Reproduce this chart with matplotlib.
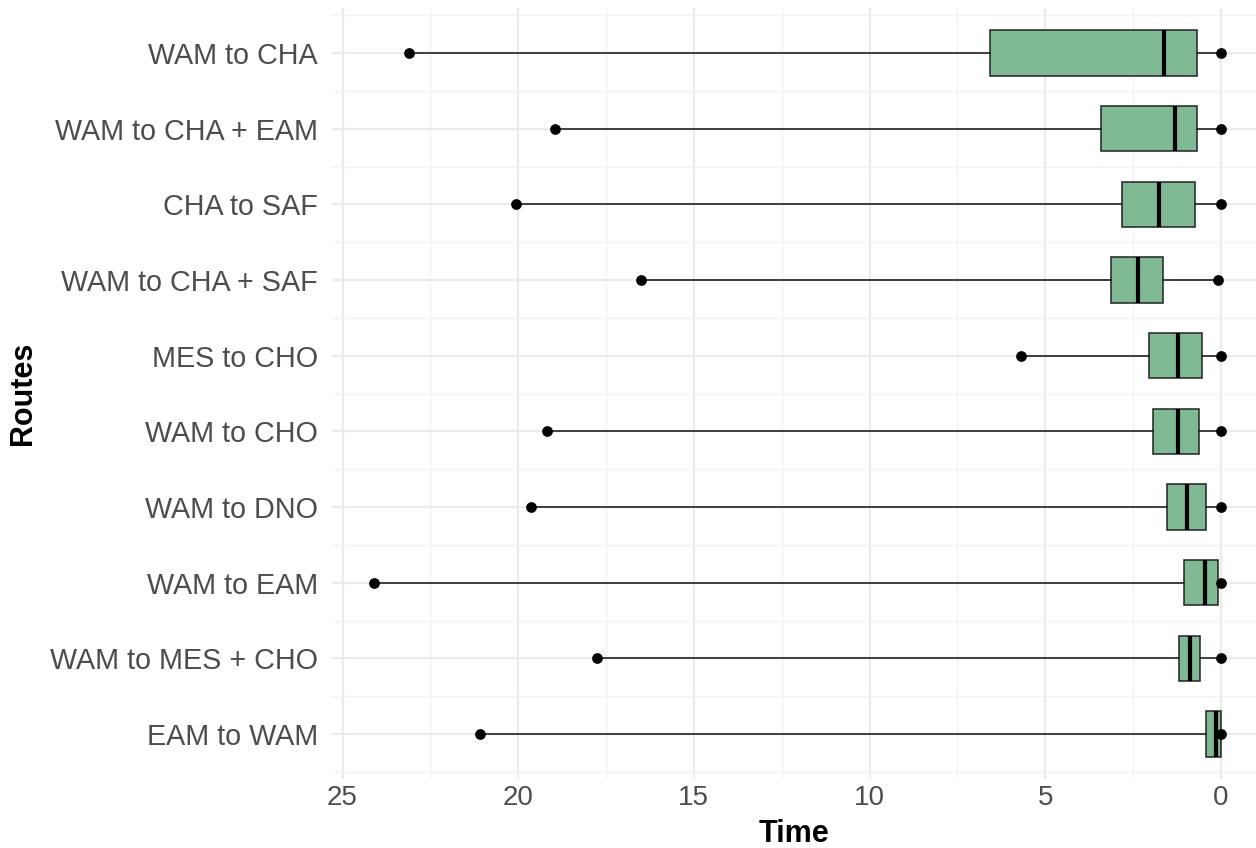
import matplotlib
matplotlib.use('Agg')
import matplotlib.pyplot as plt

plt.rcParams['font.family'] = ['Liberation Sans', 'DejaVu Sans']

# Routes, top to bottom as shown
routes = ['WAM to CHA', 'WAM to CHA + EAM', 'CHA to SAF', 'WAM to CHA + SAF',
          'MES to CHO', 'WAM to CHO', 'WAM to DNO', 'WAM to EAM',
          'WAM to MES + CHO', 'EAM to WAM']

# five-number summaries
t_min = [23.1, 18.95, 20.05, 16.5, 5.7, 19.17, 19.63, 24.1, 17.75, 21.08]
t_q1 = [6.56, 3.42, 2.80, 3.14, 2.04, 1.93, 1.54, 1.06, 1.19, 0.41]
t_med = [1.62, 1.30, 1.77, 2.36, 1.22, 1.22, 0.95, 0.44, 0.88, 0.13]
t_q3 = [0.69, 0.69, 0.74, 1.66, 0.54, 0.63, 0.43, 0.09, 0.58, 0.01]
t_max = [0.0, 0.0, 0.0, 0.08, 0.0, 0.0, 0.0, 0.0, 0.0, 0.0]

fig = plt.figure(figsize=(12.56, 8.48), dpi=100)
ax = fig.add_axes([0.2643, 0.0809, 0.7357, 0.910])

n = len(routes)
pos = list(range(n, 0, -1))

stats = []
for i in range(n):
    stats.append(dict(med=t_med[i], q1=t_q3[i], q3=t_q1[i],
                      whislo=t_max[i], whishi=t_min[i], fliers=[]))

ax.bxp(stats, positions=pos, widths=0.6, vert=False, patch_artist=True,
       showcaps=False, showfliers=False,
       boxprops=dict(facecolor='#7fba94', edgecolor='#222222', linewidth=1.1),
       medianprops=dict(color='black', linewidth=3),
       whiskerprops=dict(color='#222222', linewidth=1.2), zorder=3)

ax.scatter(t_min, pos, s=45, color='black', zorder=4)
ax.scatter(t_max, pos, s=45, color='black', zorder=4)

ax.set_xlim(25.3, -1.0)
ax.set_ylim(0.4, n + 0.6)
ax.set_xticks([25, 20, 15, 10, 5, 0])
ax.set_xticks([22.5, 17.5, 12.5, 7.5, 2.5], minor=True)
ax.set_yticks(pos)
ax.set_yticklabels(routes)
ax.set_yticks([p + 0.5 for p in pos[1:]] + [0.5, n + 0.5], minor=True)

ax.grid(True, which='major', color='#ebebeb', linewidth=1.6, zorder=0)
ax.grid(True, which='minor', color='#f2f2f2', linewidth=1.0, zorder=0)
ax.set_axisbelow(True)

for s in ax.spines.values():
    s.set_visible(False)
ax.tick_params(which='both', length=0)
ax.tick_params(axis='y', labelsize=20.7, labelcolor='#4d4d4d', pad=10)
ax.tick_params(axis='x', labelsize=20, labelcolor='#4d4d4d', pad=4)

ax.set_xlabel('Time', fontsize=22, fontweight='bold', labelpad=6)
ax.set_ylabel('Routes', fontsize=22, fontweight='bold', labelpad=9)

fig.savefig('out.png', dpi=100)
